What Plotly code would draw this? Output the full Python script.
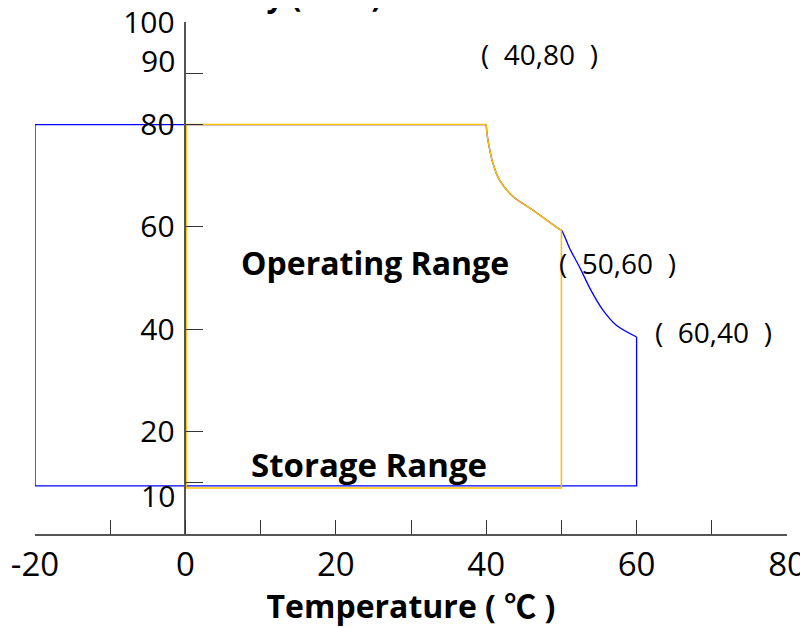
import plotly.graph_objects as go

# Storage range (blue): straight outline and curved upper-right edge
storage_outline_x = [40, -20, -20, 60, 60]
storage_outline_y = [80, 80, 9.4, 9.4, 38.5]
storage_curve_x = [40, 40.1, 40.4, 40.9, 41.8, 43.6, 46.2, 49.8, 50.0, 51.1, 52.4, 53.9, 55.5, 57.3, 60.0]
storage_curve_y = [80, 78.3, 75.6, 72.4, 69.1, 65.9, 63.3, 59.5, 59.4, 55.8, 52.2, 47.7, 43.8, 40.8, 38.5]

# Operating range (orange): straight outline and curved upper-right edge
operating_outline_x = [40, 0.1, 0.1, 50.0, 50.0]
operating_outline_y = [80, 80, 9.0, 9.0, 59.4]
operating_curve_x = [40, 40.1, 40.4, 40.9, 41.8, 43.6, 46.2, 49.8, 50.0]
operating_curve_y = [80, 78.3, 75.6, 72.4, 69.1, 65.9, 63.3, 59.5, 59.4]

x_tickvals = [-20, -10, 0, 10, 20, 30, 40, 50, 60, 70, 80]
x_ticktext = ["-20", "", "0", "", "20", "", "40", "", "60", "", "80"]
y_tickvals = [10, 20, 40, 60, 80, 90, 100]
y_ticktext = ["", "20", "40", "60", "80", "", "100"]
# labels of the 10 and 90 ticks sit slightly off their tick marks in the reference
offset_tick_labels = ["10", "90"]
offset_tick_label_y = [7.6, 92.6]

point_labels = ["(\u00a0 40,80\u00a0 )", "(\u00a0 50,60\u00a0 )", "(\u00a0 60,40\u00a0 )"]
point_label_x = [47.1, 57.5, 70.2]
point_label_y = [93.75, 52.9, 39.55]

region_labels = ["Operating Range", "Storage Range"]
region_label_x = [25.2, 24.4]
region_label_y = [53.1, 13.5]
region_label_size = [32, 33]

FONT = "Open Sans, Noto Sans CJK SC, DejaVu Sans, sans-serif"
BLUE = "#0000FF"
ORANGE = "#FFC000"

fig = go.Figure()
fig.add_trace(go.Scatter(x=storage_outline_x, y=storage_outline_y, mode="lines",
                         line=dict(color=BLUE, width=1.3), hoverinfo="skip"))
fig.add_trace(go.Scatter(x=storage_curve_x, y=storage_curve_y, mode="lines",
                         line=dict(color=BLUE, width=1.3, shape="spline", smoothing=0.8), hoverinfo="skip"))
fig.add_trace(go.Scatter(x=operating_outline_x, y=operating_outline_y, mode="lines",
                         line=dict(color=ORANGE, width=1.5), hoverinfo="skip"))
fig.add_trace(go.Scatter(x=operating_curve_x, y=operating_curve_y, mode="lines",
                         line=dict(color=ORANGE, width=1.5, shape="spline", smoothing=0.8), hoverinfo="skip"))

annotations = []
for t, x, y in zip(point_labels, point_label_x, point_label_y):
    annotations.append(dict(text=t, x=x, y=y, xref="x", yref="y", showarrow=False,
                            xanchor="center", yanchor="middle",
                            font=dict(family=FONT, size=28, color="black")))
for t, x, y, s in zip(region_labels, region_label_x, region_label_y, region_label_size):
    annotations.append(dict(text="<b>" + t + "</b>", x=x, y=y, xref="x", yref="y", showarrow=False,
                            xanchor="center", yanchor="middle",
                            font=dict(family=FONT, size=s, color="black")))
for t, y in zip(offset_tick_labels, offset_tick_label_y):
    annotations.append(dict(text=t, x=-1.1, y=y, xref="x", yref="y", showarrow=False,
                            xanchor="right", yanchor="middle",
                            font=dict(family=FONT, size=30, color="black")))
annotations.append(dict(text="<b>Humidity (%RH)</b>", x=0.302, y=1.051, xref="paper", yref="paper",
                        showarrow=False, xanchor="center", yanchor="middle",
                        font=dict(family=FONT, size=30, color="black")))

fig.update_layout(
    width=800, height=619,
    margin=dict(l=27, r=21, t=14, b=93),
    paper_bgcolor="white", plot_bgcolor="white",
    showlegend=False,
    font=dict(family=FONT, color="black"),
    annotations=annotations,
    xaxis=dict(range=[-20, 80], tickvals=x_tickvals, ticktext=x_ticktext,
               ticks="inside", ticklen=14, tickcolor="#333333", tickwidth=1,
               showline=True, linecolor="#555555", linewidth=1.5,
               showgrid=False, zeroline=False, automargin=False,
               ticklabeloverflow="allow",
               tickfont=dict(size=33, color="black"), ticklabelstandoff=1,
               title=dict(text="<b>Temperature ( ℃ )</b>", font=dict(size=32, color="black"), standoff=13)),
    yaxis=dict(range=[0, 100.05], tickvals=y_tickvals, ticktext=y_ticktext,
               anchor="free", position=0.2,
               ticks="inside", ticklen=17, tickcolor="#333333", tickwidth=1,
               showline=True, linecolor="#555555", linewidth=1.5,
               showgrid=False, zeroline=False, automargin=False,
               ticklabeloverflow="allow",
               tickfont=dict(size=30, color="black"), ticklabelstandoff=4),
)

fig.write_html("out.html")
